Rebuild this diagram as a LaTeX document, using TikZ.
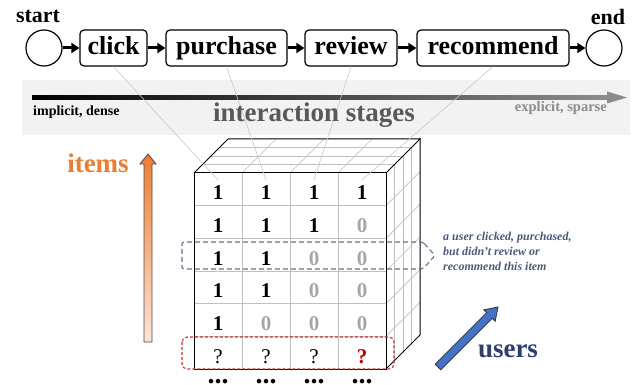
\documentclass[tikz,border=0pt]{standalone}
\usepackage{fontspec}
\setmainfont{Liberation Serif}
\usetikzlibrary{arrows.meta}
\definecolor{bandgray}{HTML}{F2F2F2}
\definecolor{linegray}{HTML}{C8C8C8}
\definecolor{gridgray}{HTML}{BFBFBF}
\definecolor{zerogray}{HTML}{A6A6A6}
\definecolor{darkred}{HTML}{C00000}
\definecolor{dashred}{HTML}{C83232}
\definecolor{orangeA}{HTML}{ED7D31}
\definecolor{orangeB}{HTML}{FBE5D6}
\definecolor{blueA}{HTML}{4472C4}
\definecolor{navy}{HTML}{2E3E6E}
\definecolor{slate}{HTML}{4A5A78}
\begin{document}
\begin{tikzpicture}[x=1pt,y=-1pt,
  stagebox/.style={draw, line width=1.2pt, rounded corners=4pt, minimum height=36pt,
    inner xsep=0pt, font=\fontsize{26}{30}\selectfont\bfseries, text height=18pt, text depth=5pt},
  endpt/.style={circle, draw, line width=1.2pt, minimum size=36pt, inner sep=0pt},
  flow/.style={line width=3pt, -{Triangle[length=8pt,width=10pt]}},
  endlabel/.style={font=\fontsize{22}{26}\selectfont\bfseries, inner sep=0pt, anchor=base},
  cellone/.style={font=\fontsize{21}{24}\selectfont\bfseries, inner sep=0pt, anchor=base},
  cellzero/.style={cellone, text=zerogray},
  cellq/.style={font=\fontsize{21}{24}\selectfont, inner sep=0pt, anchor=base},
  cellqred/.style={cellone, text=darkred},
  dotsnode/.style={font=\fontsize{28}{30}\selectfont\bfseries, inner sep=0pt, anchor=base,
    text height=5pt, text depth=0pt},
  guide/.style={linegray, line width=0.6pt},
  edge/.style={black, line width=1pt},
  grid/.style={gridgray, line width=0.6pt},
]
\useasboundingbox (0,0) rectangle (638,385);

% band
\fill[bandgray] (22,80) rectangle (630,135);
\shade[left color=black, right color=black!45] (32,95.5) rectangle (608,99.5);
\fill[black!45] (607,91.5) -- (627,97.5) -- (607,103.5) -- cycle;

% top row
\node[endpt] (start) at (44,48) {};
\node[endpt] (end) at (604,48) {};
\node[endlabel] (startlbl) at (38,23) {start};
\node[endlabel] (endlbl) at (608,25) {end};
\node[stagebox, minimum width=67pt] (click) at (113.5,48) {click};
\node[stagebox, minimum width=121pt] (purchase) at (226.5,48) {purchase};
\node[stagebox, minimum width=92pt] (review) at (351,48) {review};
\node[stagebox, minimum width=152pt] (recommend) at (493,48) {recommend};
\draw[flow] (start) -- (click);
\draw[flow] (click) -- (purchase);
\draw[flow] (purchase) -- (review);
\draw[flow] (review) -- (recommend);
\draw[flow] (recommend) -- (end);

% cube
\fill[white] (194,173) -- (228,139) -- (420,139) -- (420,335) -- (386,369) -- (194,369) -- cycle;
\foreach \k in {1,2,3} {
  \draw[grid] (194+48*\k,173) -- (228+48*\k,139);
  \draw[grid] (194+8.5*\k,173-8.5*\k) -- (386+8.5*\k,173-8.5*\k);
  \draw[grid] (386+8.5*\k,173-8.5*\k) -- (386+8.5*\k,369-8.5*\k);
  \draw[grid] (194+48*\k,173) -- (194+48*\k,369);
}
\foreach \k in {1,...,5} {
  \draw[grid] (386,173+32.667*\k) -- (420,139+32.667*\k);
  \draw[grid] (194,173+32.667*\k) -- (386,173+32.667*\k);
}
\draw[edge] (194,173) -- (228,139) -- (420,139) -- (386,173);
\draw[edge] (420,139) -- (420,335) -- (386,369);
\draw[edge] (194,173) rectangle (386,369);

% cells
\node[cellone] (c11) at (218,200) {1};
\node[cellone] (c12) at (266,200) {1};
\node[cellone] (c13) at (314,200) {1};
\node[cellone] (c14) at (362,200) {1};
\node[cellone] (c21) at (218,232.7) {1};
\node[cellone] (c22) at (266,232.7) {1};
\node[cellone] (c23) at (314,232.7) {1};
\node[cellzero] (c24) at (362,232.7) {0};
\node[cellone] (c31) at (218,265.3) {1};
\node[cellone] (c32) at (266,265.3) {1};
\node[cellzero] (c33) at (314,265.3) {0};
\node[cellzero] (c34) at (362,265.3) {0};
\node[cellone] (c41) at (218,298) {1};
\node[cellone] (c42) at (266,298) {1};
\node[cellzero] (c43) at (314,298) {0};
\node[cellzero] (c44) at (362,298) {0};
\node[cellone] (c51) at (218,330.7) {1};
\node[cellzero] (c52) at (266,330.7) {0};
\node[cellzero] (c53) at (314,330.7) {0};
\node[cellzero] (c54) at (362,330.7) {0};
\node[cellq] (c61) at (218,363.3) {?};
\node[cellq] (c62) at (266,363.3) {?};
\node[cellq] (c63) at (314,363.3) {?};
\node[cellqred] (c64) at (362,363.3) {?};

\node[dotsnode] (d1) at (218,383.5) {...};
\node[dotsnode] (d2) at (266,383.5) {...};
\node[dotsnode] (d3) at (314,383.5) {...};
\node[dotsnode] (d4) at (362,383.5) {...};

% guide lines from stages to cells
\draw[guide] (click.south) -- ([yshift=6pt]c11.north);
\draw[guide] (purchase.south) -- ([yshift=6pt]c12.north);
\draw[guide] (review.south) -- ([yshift=6pt]c13.north);
\draw[guide] (recommend.south) -- ([yshift=6pt]c14.north);

% band texts
\node[font=\fontsize{14}{16}\selectfont\bfseries, anchor=base west, inner sep=0pt] (implicit) at (33,116) {implicit, dense};
\node[font=\fontsize{27}{30}\selectfont\bfseries, text=black!65, anchor=base, inner sep=0pt] (stages) at (314,122) {interaction stages};
\node[font=\fontsize{14.5}{16}\selectfont\bfseries, text=black!45, anchor=base east, inner sep=0pt] (explicit) at (607,112) {explicit, sparse};

% highlight boxes
\draw[slate!85, line width=1.1pt, dash pattern=on 5pt off 3pt, rounded corners=2pt]
  (423,242) -- (435,255.5) -- (423,269) -- (182,269) -- (182,242) -- cycle;
\draw[dashred, line width=1.1pt, dash pattern=on 3pt off 2pt, rounded corners=5pt]
  (182,337) rectangle (394,369);

\node[font=\fontsize{12}{15}\selectfont\bfseries\itshape, text=slate, align=left, anchor=north west, inner sep=0pt] (note) at (443,232)
  {a user clicked, purchased,\\ but didn’t review or\\ recommend this item};

% items arrow
\shade[top color=orangeA, bottom color=orangeB, draw=black!70, line width=0.8pt]
  (144,342) -- (144,164) -- (140,164) -- (148,154) -- (156,164) -- (152,164) -- (152,342) -- cycle;
\node[font=\fontsize{27}{30}\selectfont\bfseries, text=orangeA, anchor=base, inner sep=0pt] (items) at (98,173) {items};

% users arrow
\draw[fill=blueA, draw=black!80, line width=0.8pt]
  (435.2,364.2) -- (486.7,312.7) -- (483.8,309.8) -- (498,307) -- (495.2,321.2) -- (492.3,318.3) -- (440.8,369.8) -- cycle;
\node[font=\fontsize{27}{30}\selectfont\bfseries, text=navy, anchor=base, inner sep=0pt] (users) at (508,357) {users};
\end{tikzpicture}
\end{document}
